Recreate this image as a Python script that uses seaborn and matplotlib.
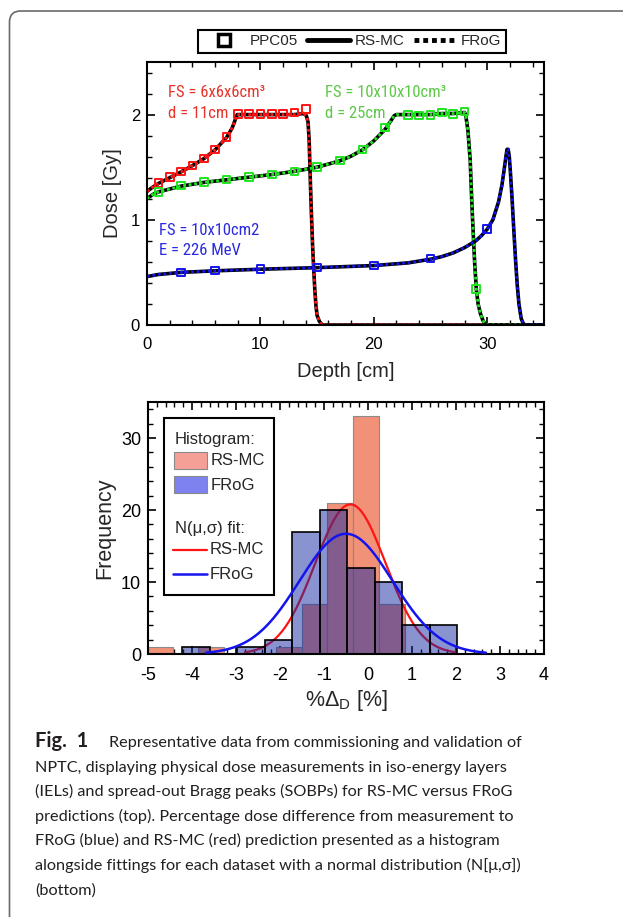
import numpy as np
import pandas as pd
import seaborn as sns
import matplotlib.pyplot as plt
from matplotlib.lines import Line2D
from matplotlib.patches import Rectangle, FancyBboxPatch
from matplotlib.transforms import IdentityTransform
from matplotlib.ticker import MultipleLocator

# ---- top panel: depth dose curves ----
red_depth = [0, 0.5, 1, 2, 3, 4, 5, 6, 7, 7.5, 7.95, 9, 10, 11, 12, 13, 13.8, 14.05, 14.2, 14.3,
             14.4, 14.5, 14.6, 14.7, 14.8, 14.9, 15.0, 15.2, 15.45, 20, 25, 30, 35]
red_dose = [1.27, 1.31, 1.345, 1.40, 1.455, 1.515, 1.58, 1.665, 1.78, 1.87, 2.0, 2.0, 2.0, 2.0, 2.0, 2.0,
            2.01, 1.99, 1.93, 1.75, 1.38, 1.05, 0.76, 0.53, 0.33, 0.18, 0.09, 0.035, 0.0, 0, 0, 0, 0]

green_depth = [0, 0.5, 1, 3, 5, 7, 9, 11, 13, 15, 17, 18, 19, 20, 21, 21.5, 21.8, 22, 23, 24, 25,
               26, 27, 28, 28.1, 28.3, 28.5, 28.65, 28.8, 28.9, 29.05, 29.2, 29.4, 29.6, 29.8, 30, 35]
green_dose = [1.20, 1.24, 1.265, 1.32, 1.355, 1.38, 1.405, 1.43, 1.46, 1.50, 1.56, 1.605, 1.665, 1.75,
              1.86, 1.94, 1.99, 2.0, 2.0, 2.0, 2.0, 2.01, 2.01, 2.02, 2.0, 1.85, 1.57, 1.15, 0.80, 0.58,
              0.33, 0.2, 0.11, 0.05, 0.01, 0, 0]

blue_depth = [0, 1, 3, 6, 10, 15, 20, 23, 25, 26, 27, 28, 29, 29.5, 30, 30.5, 31, 31.3, 31.5, 31.65,
              31.75, 31.85, 31.95, 32.05, 32.2, 32.35, 32.5, 32.65, 32.8, 33.0, 33.2, 33.4, 35]
blue_dose = [0.46, 0.48, 0.50, 0.515, 0.53, 0.545, 0.565, 0.59, 0.625, 0.65, 0.685, 0.735, 0.80, 0.85,
             0.91, 1.0, 1.17, 1.33, 1.48, 1.6, 1.67, 1.67, 1.6, 1.45, 1.19, 0.9, 0.62, 0.38, 0.2, 0.06,
             0.01, 0, 0]

# PPC05 measurements
ppc_red_depth = [1, 2, 3, 4, 5, 6, 7, 8, 9, 10, 11, 12, 13, 14]
ppc_red_dose = [1.349, 1.406, 1.460, 1.517, 1.584, 1.667, 1.787, 2.006, 2.006, 2.006, 2.006, 2.006,
                2.019, 2.051]
ppc_green_depth = [1, 3, 5, 7, 9, 11, 13, 15, 17, 19, 21, 23, 24, 25, 26, 27, 28, 29]
ppc_green_dose = [1.263, 1.327, 1.359, 1.384, 1.406, 1.432, 1.460, 1.502, 1.565, 1.667, 1.879, 1.994,
                  1.990, 1.997, 2.019, 2.006, 2.029, 0.340]
ppc_blue_depth = [3, 6, 10, 15, 20, 25, 30]
ppc_blue_dose = [0.498, 0.517, 0.530, 0.546, 0.565, 0.632, 0.914]

# ---- bottom panel: histograms of %dose difference ----
rsmc_edges = [-5.03, -4.443, -3.856, -3.269, -2.682, -2.095, -1.508, -0.921, -0.334, 0.253, 0.84, 1.427]
rsmc_counts = [1, 0, 1, 0, 0, 1, 7, 21, 33, 7, 0]
frog_edges = [-4.22, -3.595, -2.97, -2.345, -1.72, -1.095, -0.47, 0.155, 0.78, 1.405, 2.03]
frog_counts = [1, 0, 1, 2, 17, 20, 12, 10, 4, 4]

# normal fits N(mu, sigma)
rsmc_mu, rsmc_sigma = -0.40, 0.80
frog_mu, frog_sigma = -0.50, 1.06

RED = "#ff1414"
GREEN = "#1ee61e"
BLUE = "#1414ee"

sns.set_theme(style="ticks")
plt.rcParams["font.family"] = ["Liberation Sans", "DejaVu Sans"]
plt.rcParams.update({
    "axes.unicode_minus": False,
    "xtick.direction": "in", "ytick.direction": "in",
    "xtick.top": True, "ytick.right": True,
    "xtick.major.size": 6, "ytick.major.size": 6,
    "xtick.minor.size": 3.5, "ytick.minor.size": 3.5,
    "xtick.major.width": 1.2, "ytick.major.width": 1.2,
    "xtick.minor.width": 1.0, "ytick.minor.width": 1.0,
    "axes.linewidth": 1.5, "axes.edgecolor": "black",
    "xtick.color": "black", "ytick.color": "black",
})

fig = plt.figure(figsize=(6.23, 9.17), dpi=100)
ax1 = fig.add_axes([0.236, 0.6456, 0.637, 0.2868])
ax2 = fig.add_axes([0.2376, 0.2868, 0.6356, 0.2748])

# top panel
for d, v, c in [(red_depth, red_dose, RED), (green_depth, green_dose, GREEN), (blue_depth, blue_dose, BLUE)]:
    sns.lineplot(x=d, y=v, ax=ax1, color="black", lw=2.6, estimator=None, sort=False)
    sns.lineplot(x=d, y=v, ax=ax1, color=c, lw=2.0, estimator=None, sort=False, linestyle=(0, (1, 1)))

for d, v, c in [(ppc_red_depth, ppc_red_dose, RED), (ppc_green_depth, ppc_green_dose, GREEN),
                (ppc_blue_depth, ppc_blue_dose, BLUE)]:
    sns.scatterplot(x=d, y=v, ax=ax1, marker="s", s=30, facecolor="none", edgecolor=c,
                    linewidth=1.4, zorder=4)

ax1.set_xlim(0, 35)
ax1.set_ylim(0, 2.5)
ax1.xaxis.set_major_locator(MultipleLocator(10))
ax1.xaxis.set_minor_locator(MultipleLocator(2))
ax1.yaxis.set_major_locator(MultipleLocator(1))
ax1.yaxis.set_minor_locator(MultipleLocator(0.2))
ax1.tick_params(axis="x", which="both", pad=9, labelsize=12)
ax1.tick_params(axis="y", which="both", pad=5, labelsize=12)
ax1.set_xlabel("Depth [cm]", fontsize=14.5, labelpad=7)
ax1.set_ylabel("Dose [Gy]", fontsize=14.5, labelpad=6)

narrow = ["Liberation Sans Narrow", "Roboto Condensed", "DejaVu Sans"]
ax1.text(1.85, 2.21, "FS = 6x6x6cm\u00b3", color="#e8322a", fontsize=12, va="center", family=narrow)
ax1.text(1.85, 2.01, "d = 11cm", color="#e8322a", fontsize=12, va="center", family=narrow)
ax1.text(15.7, 2.21, "FS = 10x10x10cm\u00b3", color="#5cc846", fontsize=12, va="center", family=narrow)
ax1.text(15.7, 2.01, "d = 25cm", color="#5cc846", fontsize=12, va="center", family=narrow)
ax1.text(1.06, 0.90, "FS = 10x10cm2", color="#2a2ae0", fontsize=12, va="center", family=narrow)
ax1.text(1.06, 0.71, "E = 226 MeV", color="#2a2ae0", fontsize=12, va="center", family=narrow)

h1 = Line2D([], [], marker="s", ls="none", mfc="white", mec="black", mew=2.5, ms=8)
h2 = Line2D([], [], color="black", lw=3.5)
h3 = Line2D([], [], color="black", lw=3.5, ls=(0, (1, 0.8)))
leg = fig.legend([h1, h2, h3], ["PPC05", "RS-MC", "FRoG"], loc="center", bbox_to_anchor=(0.565, 0.955),
                 ncol=3, frameon=True, fancybox=False, edgecolor="black", fontsize=11, handlelength=2.8,
                 handletextpad=0.3, columnspacing=0.6, borderpad=0.3, framealpha=1)
leg.get_frame().set_linewidth(1.5)

# bottom panel
rsmc_centers = [(a + b) / 2 for a, b in zip(rsmc_edges[:-1], rsmc_edges[1:])]
frog_centers = [(a + b) / 2 for a, b in zip(frog_edges[:-1], frog_edges[1:])]

sns.histplot(x=rsmc_centers, weights=rsmc_counts, bins=rsmc_edges, ax=ax2, color="#f09178", alpha=1,
             edgecolor="#8a8a8a", linewidth=0.8, zorder=1)


def normal_fit(counts, edges, mu, sigma):
    n = sum(counts)
    w = edges[1] - edges[0]
    xs = np.linspace(mu - 3 * sigma, mu + 3 * sigma, 300)
    ys = n * w / (sigma * np.sqrt(2 * np.pi)) * np.exp(-0.5 * ((xs - mu) / sigma) ** 2)
    return xs, ys


xr, yr = normal_fit(rsmc_counts, rsmc_edges, rsmc_mu, rsmc_sigma)
sns.lineplot(x=xr, y=yr, ax=ax2, color=RED, lw=1.6, zorder=1.5, estimator=None, sort=False)

sns.histplot(x=frog_centers, weights=frog_counts, bins=frog_edges, ax=ax2, color="#1428a0", alpha=0.5,
             edgecolor="black", linewidth=1.2, zorder=2)

xb, yb = normal_fit(frog_counts, frog_edges, frog_mu, frog_sigma)
sns.lineplot(x=xb, y=yb, ax=ax2, color=BLUE, lw=1.8, zorder=2.6, estimator=None, sort=False)

ax2.set_xlim(-5, 4)
ax2.set_ylim(0, 35)
ax2.xaxis.set_major_locator(MultipleLocator(1))
ax2.xaxis.set_minor_locator(MultipleLocator(0.2))
ax2.yaxis.set_major_locator(MultipleLocator(10))
ax2.yaxis.set_minor_locator(MultipleLocator(2))
ax2.tick_params(axis="x", which="both", pad=9, labelsize=13)
ax2.tick_params(axis="y", which="both", pad=5, labelsize=13)
ax2.set_xlabel(r"%$\mathregular{\Delta_D}$ [%]", fontsize=15.5, labelpad=3)
ax2.set_ylabel("Frequency", fontsize=15.5, labelpad=4)

# legend drawn by hand (headers + entries in one box)
T = ax2.transAxes
ax2.add_patch(Rectangle((0.041, 0.234), 0.277, 0.701, transform=T, facecolor="white", edgecolor="black",
                        lw=1.5, zorder=5))
ax2.text(0.068, 0.852, "Histogram:", transform=T, fontsize=12, va="center", zorder=6)
ax2.add_patch(Rectangle((0.066, 0.733), 0.084, 0.07, transform=T, facecolor="#f5a096",
                        edgecolor="#8a8a8a", lw=0.8, zorder=6))
ax2.text(0.158, 0.767, "RS-MC", transform=T, fontsize=12, va="center", zorder=6)
ax2.add_patch(Rectangle((0.066, 0.638), 0.084, 0.07, transform=T, facecolor="#7d82f0",
                        edgecolor="#8a8a8a", lw=0.8, zorder=6))
ax2.text(0.158, 0.669, "FRoG", transform=T, fontsize=12, va="center", zorder=6)
ax2.text(0.068, 0.499, "N(\u03bc,\u03c3) fit:", transform=T, fontsize=12, va="center", zorder=6)
ax2.add_line(Line2D([0.064, 0.148], [0.413, 0.413], transform=T, color=RED, lw=1.6, zorder=6))
ax2.text(0.156, 0.413, "RS-MC", transform=T, fontsize=12, va="center", zorder=6)
ax2.add_line(Line2D([0.064, 0.148], [0.316, 0.316], transform=T, color=BLUE, lw=1.8, zorder=6))
ax2.text(0.156, 0.316, "FRoG", transform=T, fontsize=12, va="center", zorder=6)

# caption
cap_font = ["Lato", "DejaVu Sans"]
H = 917
baselines = [747, 771.6, 796.2, 820.8, 845.4, 870, 894.6]
caption_lines = [
    "Representative data from commissioning and validation of",
    "NPTC, displaying physical dose measurements in iso-energy layers",
    "(IELs) and spread-out Bragg peaks (SOBPs) for RS-MC versus FRoG",
    "predictions (top). Percentage dose difference from measurement to",
    "FRoG (blue) and RS-MC (red) prediction presented as a histogram",
    "alongside fittings for each dataset with a normal distribution (N[\u03bc,\u03c3])",
    "(bottom)",
]
fig.text(35 / 623, 1 - baselines[0] / H, "Fig.  1", fontsize=14.5, weight="bold", family=cap_font,
         va="baseline", color="#231f20")
for i, line in enumerate(caption_lines):
    x0 = 109 if i == 0 else 35
    fig.text(x0 / 623, 1 - baselines[i] / H, line, fontsize=11.7, family=cap_font, va="baseline",
             color="#231f20")

# rounded frame around the figure (only top/left edges fall inside the image)
frame = FancyBboxPatch((9.5, -20), 700, H - 11 + 20, boxstyle="round,pad=0,rounding_size=11",
                       transform=IdentityTransform(), fill=False, edgecolor="#6a6a6a", lw=1.2)
fig.add_artist(frame)

fig.savefig("out.png", dpi=100)
